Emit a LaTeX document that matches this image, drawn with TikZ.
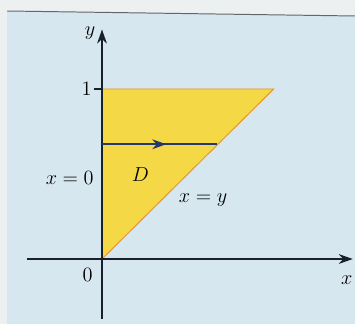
\documentclass[tikz,border=0pt]{standalone}
\usepackage{tikz}
\usetikzlibrary{arrows.meta,decorations.markings}
\definecolor{PageBlue}{HTML}{D6E7EF}
\definecolor{PageWhite}{HTML}{ECF0F0}
\definecolor{RegionYellow}{HTML}{F5D845}
\definecolor{EdgeOrange}{HTML}{E9952C}
\definecolor{AxisNavy}{HTML}{18202C}
\definecolor{PathBlue}{HTML}{24366B}

\begin{document}
\begin{tikzpicture}[
  x=4.25cm, y=4.25cm,
  axis/.style={-{Stealth[length=10pt,width=7pt]}, line width=1.1pt, AxisNavy},
  lab/.style={font=\fontsize{14.5}{16}\selectfont, text=black, inner sep=1pt},
  region/.style={fill=RegionYellow, draw=EdgeOrange, line width=0.7pt},
  sweep/.style={line width=1.1pt, PathBlue, postaction={decorate},
    decoration={markings, mark=at position 0.56 with {\arrow{Stealth[length=10pt,width=7pt]}}}}
]
% page background
\useasboundingbox (-0.6,-0.3824) rectangle (1.4882,1.5235);
\fill[PageWhite] (-0.6,-0.3824) rectangle (1.4882,1.5235);
\fill[PageBlue] (-0.5588,-0.3824) -- (-0.5588,1.4588) -- (1.4882,1.4294) -- (1.4882,-0.3824) -- cycle;
\draw[gray!80!black, line width=0.7pt] (-0.5588,1.4588) -- (1.4882,1.4294);

% region D
\coordinate (o) at (0,0);
\coordinate (top) at (0,1);
\coordinate (corner) at (1.01,1);
\draw[region] (o) -- (top) -- (corner) -- cycle;

% axes
\coordinate (xl) at (-0.44,0);
\coordinate (xr) at (1.475,0);
\coordinate (yb) at (0,-0.35);
\coordinate (yt) at (0,1.35);
\draw[axis] (xl) -- (xr);
\draw[axis] (yb) -- (yt);
\draw[line width=1.1pt, AxisNavy] (-0.045,1) -- (top);

% horizontal sweep
\coordinate (sl) at (0,0.675);
\coordinate (sr) at (0.675,0.675);
\draw[sweep] (sl) -- (sr);

% labels
\node[lab] (ylab) at (-0.07,1.33) {$y$};
\node[lab] (xlab) at (1.44,-0.125) {$x$};
\node[lab] (one) at (-0.09,1.0) {1};
\node[lab] (zero) at (-0.085,-0.095) {0};
\node[lab] (dlab) at (0.225,0.495) {$D$};
\node[lab] (left) at (-0.19,0.475) {$x=0$};
\node[lab] (diag) at (0.595,0.347) {$x=y$};
\end{tikzpicture}
\end{document}
